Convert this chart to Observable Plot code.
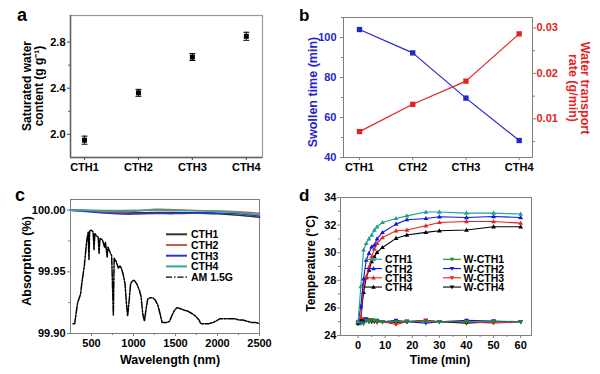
<!DOCTYPE html>
<html><head><meta charset="utf-8">
<script src="https://cdn.jsdelivr.net/npm/d3@7"></script>
<script src="https://cdn.jsdelivr.net/npm/@observablehq/plot@0.6"></script>
<style>
body{margin:0;background:#fff;}
#wrap{position:relative;width:600px;height:374px;overflow:hidden;background:#fff;}
#wrap svg{position:absolute;}
</style></head><body><div id="wrap"></div>
<script>
// ---------- DATA ----------
const categories = ["CTH1", "CTH2", "CTH3", "CTH4"];
// panel a
const waterContent = [1.95, 2.36, 2.67, 2.85];
const waterContentErr = [0.035, 0.03, 0.03, 0.035];
// panel b
const swollenTime = [104, 92.3, 69.7, 48.5];
const transportRate = [0.0072, 0.0132, 0.0183, 0.0287];
// panel c
const wlCTH = [250, 500, 750, 1000, 1250, 1500, 1750, 2000, 2250, 2500];
const absCTH1 = [100.000, 99.9995, 99.9982, 99.9978, 99.998, 99.998, 99.9978, 99.997, 99.9958, 99.9942];
const absCTH2 = [100.000, 99.9992, 99.9986, 99.9990, 100.0006, 100.0003, 99.9996, 99.9992, 99.9986, 99.9975];
const absCTH3 = [100.000, 99.9985, 99.9972, 99.9968, 99.9972, 99.9972, 99.9977, 99.9977, 99.997, 99.9952];
const absCTH4 = [100.000, 99.9998, 99.9996, 99.9998, 100.0000, 99.9998, 99.9995, 99.999, 99.998, 99.9963];
const amWl = [280, 300, 320, 335, 350, 370, 385, 400, 415, 430, 445, 460, 470, 478, 500, 520, 530, 540, 560, 580, 590, 600, 630, 655, 665, 687, 695, 720, 740, 760, 770, 790, 820, 840, 860, 880, 900, 915, 930, 950, 965, 990, 1010, 1040, 1070, 1090, 1110, 1130, 1150, 1170, 1200, 1230, 1260, 1290, 1320, 1340, 1360, 1400, 1430, 1460, 1490, 1520, 1560, 1600, 1650, 1700, 1740, 1780, 1800, 1850, 1900, 1950, 1980, 2030, 2100, 2150, 2200, 2250, 2300, 2350, 2400, 2450, 2500];
const amVal = [99.908, 99.908, 99.918, 99.925, 99.928, 99.932, 99.941, 99.948, 99.955, 99.966, 99.976, 99.982, 99.960, 99.983, 99.984, 99.982, 99.968, 99.981, 99.979, 99.978, 99.965, 99.977, 99.976, 99.970, 99.974, 99.962, 99.970, 99.966, 99.963, 99.915, 99.961, 99.959, 99.953, 99.955, 99.952, 99.947, 99.940, 99.925, 99.914, 99.928, 99.940, 99.943, 99.943, 99.940, 99.935, 99.930, 99.916, 99.910, 99.920, 99.928, 99.929, 99.929, 99.927, 99.923, 99.915, 99.909, 99.909, 99.909, 99.910, 99.915, 99.919, 99.921, 99.920, 99.919, 99.918, 99.916, 99.914, 99.911, 99.908, 99.908, 99.908, 99.909, 99.910, 99.912, 99.912, 99.912, 99.912, 99.911, 99.911, 99.910, 99.909, 99.909, 99.908];
// panel d
const time = [0, 1, 2, 3, 4, 5, 6, 7, 9, 14, 18, 25, 30, 40, 50, 60];
const tCTH1 = [25.0, 27.55, 30.2, 30.67, 31.0, 31.28, 31.64, 31.88, 32.19, 32.48, 32.67, 32.95, 32.95, 32.87, 32.87, 32.8];
const tCTH2 = [25.0, 26.1, 28.1, 29.47, 29.95, 30.43, 30.55, 31.0, 31.47, 32.07, 32.39, 32.48, 32.6, 32.55, 32.62, 32.55];
const tCTH3 = [25.0, 25.3, 27.73, 28.26, 28.94, 29.71, 30.26, 30.67, 31.1, 31.59, 31.64, 31.95, 32.19, 32.26, 32.26, 32.14];
const tCTH4 = [24.9, 25.2, 27.13, 28.2, 28.74, 29.35, 29.71, 30.02, 30.38, 31.04, 31.28, 31.47, 31.59, 31.64, 31.88, 31.88];
const tWCTH1 = [24.9, 24.9, 24.85, 25.1, 25.0, 25.15, 25.1, 25.05, 25.0, 25.0, 25.05, 25.0, 25.0, 25.0, 25.0, 25.0];
const tWCTH2 = [24.9, 25.0, 25.1, 25.2, 25.0, 25.1, 25.05, 25.1, 25.0, 25.1, 25.0, 24.9, 25.0, 25.1, 25.05, 25.0];
const tWCTH3 = [25.0, 25.1, 25.2, 25.1, 25.15, 25.1, 25.0, 24.95, 25.0, 24.8, 25.0, 25.1, 25.0, 25.0, 24.9, 25.0];
const tWCTH4 = [24.85, 24.9, 25.0, 25.1, 25.1, 25.0, 25.05, 25.0, 25.0, 24.95, 25.0, 25.1, 25.0, 24.9, 25.0, 25.0];

// ---------- STYLE ----------
const font = "'Liberation Sans', Arial, Helvetica, sans-serif";
const gray = "#808080", darkGray = "#606060";
const blue = "#2626c8", red = "#e02424";
const teal = "#1f9e8c", dblue = "#1414e6", dred = "#e82020";
const cColors = ["#333333", "#c85a52", "#3434c4", "#34a894"];
const baseStyle = {fontFamily: font, fontSize: "11px", fontWeight: "bold", background: "transparent", overflow: "visible", color: "black"};
const wrap = document.getElementById("wrap");
function put(svg, left, top) { svg.style.left = left + "px"; svg.style.top = top + "px"; wrap.appendChild(svg); return svg; }
const hcap = {draw(ctx) { ctx.moveTo(-3, 0); ctx.lineTo(3, 0); }};
const triDown = {draw(ctx, size) { const r = Math.sqrt(size) * 0.62; ctx.moveTo(0, r); ctx.lineTo(r * 0.95, -r * 0.65); ctx.lineTo(-r * 0.95, -r * 0.65); ctx.closePath(); }};
const triUp = {draw(ctx, size) { const r = Math.sqrt(size) * 0.62; ctx.moveTo(0, -r); ctx.lineTo(r * 0.95, r * 0.65); ctx.lineTo(-r * 0.95, r * 0.65); ctx.closePath(); }};
const noText = () => "";

// ---------- PANEL A ----------
const aData = categories.map((c, i) => ({i: i + 1, v: waterContent[i], e: waterContentErr[i]}));
const aX = [0.74, 4.3], aY = [1.8, 3.03];
put(Plot.plot({
  width: 300, height: 187, marginLeft: 70, marginRight: 38, marginTop: 15, marginBottom: 30,
  style: baseStyle,
  x: {domain: aX, axis: null}, y: {domain: aY, axis: null},
  marks: [
    Plot.frame({stroke: "#9a9a9a", strokeWidth: 1.2}),
    Plot.ruleX([aX[0]], {stroke: darkGray, strokeWidth: 1.5}),
    Plot.ruleY([aY[0]], {stroke: darkGray, strokeWidth: 1.5}),
    Plot.axisX({ticks: [1, 2, 3, 4], tickFormat: d => categories[d - 1], tickSize: 3, tickPadding: 3, stroke: darkGray, strokeWidth: 1.2, fill: "black", label: null}),
    Plot.axisY({ticks: [2.0, 2.4, 2.8], tickFormat: d3.format(".1f"), tickSize: 3, tickPadding: 2, stroke: darkGray, strokeWidth: 1.2, fill: "black", label: null}),
    Plot.axisY({ticks: [2.2, 2.6], tickFormat: noText, tickSize: 2, stroke: darkGray, label: null}),
    Plot.ruleX(aData, {x: "i", y1: d => d.v - d.e, y2: d => d.v + d.e, stroke: "black", strokeWidth: 1}),
    Plot.dot(aData, {x: "i", y: d => d.v - d.e, symbol: hcap, r: 3, stroke: "black", strokeWidth: 1}),
    Plot.dot(aData, {x: "i", y: d => d.v + d.e, symbol: hcap, r: 3, stroke: "black", strokeWidth: 1}),
    Plot.dot(aData, {x: "i", y: "v", symbol: "square", r: 2.8, fill: "black"})
  ]
}), 0, 0);

// ---------- PANEL B ----------
const bData = categories.map((c, i) => ({i: i + 1, t: swollenTime[i], r: transportRate[i]}));
const bX = [0.7, 4.25], bYL = [40, 110], bYR = [0.0015, 0.0323];
const bOpts = {width: 300, height: 187, marginLeft: 43, marginRight: 68, marginTop: 17, marginBottom: 30, style: baseStyle};
put(Plot.plot({
  ...bOpts,
  x: {domain: bX, axis: null}, y: {domain: bYL, axis: null},
  marks: [
    Plot.frame({stroke: gray}),
    Plot.axisX({ticks: [1, 2, 3, 4], tickFormat: d => categories[d - 1], tickSize: 3, tickPadding: 3, stroke: gray, fill: "black", label: null}),
    Plot.axisY({ticks: [40, 60, 80, 100], tickSize: 3, tickPadding: 4, stroke: gray, fill: blue, label: null}),
    Plot.axisY({ticks: [50, 70, 90, 110], tickFormat: noText, tickSize: 2, stroke: gray, label: null}),
    Plot.line(bData, {x: "i", y: "t", stroke: blue, strokeWidth: 1.2}),
    Plot.dot(bData, {x: "i", y: "t", symbol: "square", r: 3, fill: blue})
  ]
}), 300, 0);
put(Plot.plot({
  ...bOpts,
  x: {domain: bX, axis: null}, y: {domain: bYR, axis: null},
  marks: [
    Plot.axisY({anchor: "right", ticks: [0.01, 0.02, 0.03], tickFormat: d3.format(".2f"), tickSize: 3, tickPadding: 1, stroke: gray, fill: red, label: null}),
    Plot.axisY({anchor: "right", ticks: [0.005, 0.015, 0.025], tickFormat: noText, tickSize: 2, stroke: gray, label: null}),
    Plot.line(bData, {x: "i", y: "r", stroke: red, strokeWidth: 1.2}),
    Plot.dot(bData, {x: "i", y: "r", symbol: "square", r: 3, fill: red})
  ]
}), 300, 0);

// ---------- PANEL C ----------
const cX = [250, 2500], cY = [99.9, 100.0086];
const amData = amWl.map((w, i) => ({w, v: amVal[i]}));
const cSeries = [absCTH1, absCTH2, absCTH3, absCTH4].map((arr, k) => wlCTH.map((w, i) => ({w, v: arr[i], s: categories[k]})));
put(Plot.plot({
  width: 300, height: 187, marginLeft: 70, marginRight: 41, marginTop: 12, marginBottom: 41,
  style: baseStyle,
  x: {domain: cX, axis: null}, y: {domain: cY, axis: null},
  marks: [
    Plot.frame({stroke: gray}),
    Plot.axisX({ticks: [500, 1000, 1500, 2000, 2500], tickSize: 3, tickPadding: 3, stroke: gray, fill: "black", label: null, tickFormat: d3.format("d")}),
    Plot.axisX({ticks: [750, 1250, 1750, 2250], tickFormat: noText, tickSize: 2, stroke: gray, label: null}),
    Plot.axisY({ticks: [99.9, 99.95, 100.0], tickFormat: d3.format(".2f"), tickSize: 3, tickPadding: 2, stroke: gray, fill: "black", label: null}),
    Plot.axisY({ticks: [99.925, 99.975], tickFormat: noText, tickSize: 2, stroke: gray, label: null}),
    Plot.line(amData, {x: "w", y: "v", stroke: "black", strokeWidth: 1.5, strokeDasharray: "7,1.5,2,1.5"}),
    ...cSeries.map((s, k) => Plot.line(s, {x: "w", y: "v", stroke: cColors[k], strokeWidth: 1.6, curve: "natural"}))
  ]
}), 0, 187);

// ---------- PANEL D ----------
const dX = [-6.5, 64], dY = [24, 34];
const dNames = ["CTH1", "CTH2", "CTH3", "CTH4", "W-CTH1", "W-CTH2", "W-CTH3", "W-CTH4"];
const dColors = [teal, dblue, dred, "black", "#1e8c2c", dblue, dred, "black"];
const dVals = [tCTH1, tCTH2, tCTH3, tCTH4, tWCTH1, tWCTH2, tWCTH3, tWCTH4];
const dSeries = dVals.map((arr, k) => time.map((t, i) => ({t, v: arr[i]})));
const dOrder = [7, 6, 5, 4, 3, 2, 1, 0];
put(Plot.plot({
  width: 300, height: 187, marginLeft: 40, marginRight: 69, marginTop: 10, marginBottom: 39,
  style: baseStyle,
  x: {domain: dX, axis: null}, y: {domain: dY, axis: null},
  marks: [
    Plot.frame({stroke: gray}),
    Plot.axisX({ticks: [0, 10, 20, 30, 40, 50, 60], tickSize: 3, tickPadding: 3, stroke: gray, fill: "black", label: null}),
    Plot.axisX({ticks: [5, 15, 25, 35, 45, 55], tickFormat: noText, tickSize: 2, stroke: gray, label: null}),
    Plot.axisY({ticks: [24, 26, 28, 30, 32, 34], tickSize: 3, tickPadding: 1, stroke: gray, fill: "black", label: null}),
    Plot.axisY({ticks: [25, 27, 29, 31, 33], tickFormat: noText, tickSize: 2, stroke: gray, label: null}),
    ...dOrder.flatMap(k => [
      Plot.line(dSeries[k], {x: "t", y: "v", stroke: dColors[k], strokeWidth: 1.1}),
      Plot.dot(dSeries[k], {x: "t", y: "v", symbol: k < 4 ? triUp : triDown, r: 2.3, fill: dColors[k]})
    ])
  ]
}), 300, 187);

// ---------- OVERLAY TEXT & LEGENDS ----------
const ov = d3.create("svg").attr("width", 600).attr("height", 374)
  .style("left", "0px").style("top", "0px").style("pointer-events", "none")
  .attr("font-family", font).attr("font-weight", "bold");
function txt(x, y, s, opt = {}) {
  return ov.append("text").attr("x", 0).attr("y", 0)
    .attr("transform", `translate(${x},${y}) rotate(${opt.rot || 0})`)
    .attr("font-size", opt.size || 12.5).attr("fill", opt.fill || "black")
    .attr("text-anchor", opt.anchor || "middle")
    .attr("dominant-baseline", opt.base || "central").text(s);
}
txt(17, 21, "a", {size: 18, anchor: "start", base: "alphabetic"});
txt(299, 20.5, "b", {size: 17, anchor: "start", base: "alphabetic"});
txt(15, 200.5, "c", {size: 18, anchor: "start", base: "alphabetic"});
txt(299, 200.5, "d", {size: 17, anchor: "start", base: "alphabetic"});
txt(26.7, 86, "Saturated water", {rot: -90, size: 12});
txt(38.5, 86, "content (g g\u207B\u00B9)", {rot: -90, size: 12});
txt(312.7, 92, "Swollen time (min)", {rot: -90, fill: blue});
txt(585, 88, "Water transport", {rot: 90, fill: red});
txt(573.3, 88, "rate (g/min)", {rot: 90, fill: red});
txt(26.7, 261, "Absorption (%)", {rot: -90});
txt(170, 359.5, "Wavelength (nm)");
txt(311, 263.5, "Temperature (\u00B0C)", {rot: -90, size: 12});
txt(440, 359.5, "Time (min)", {size: 12});
const cLegNames = [...categories, "AM 1.5G"];
const cLegColors = [...cColors, "black"];
cLegNames.forEach((n, i) => {
  const y = 234.3 + i * 10.7;
  ov.append("line").attr("x1", 166).attr("x2", 187).attr("y1", y).attr("y2", y)
    .attr("stroke", cLegColors[i]).attr("stroke-width", i < 4 ? 2 : 1.4)
    .attr("stroke-dasharray", i < 4 ? null : "6,2,1.5,2");
  txt(191, y, n, {size: 10.5, anchor: "start"});
});
dNames.forEach((n, k) => {
  const col = k < 4 ? 0 : 1, row = k % 4;
  const y = 259.3 + row * 9.25;
  const x0 = col ? 443 : 365, x1 = col ? 461 : 382, xt = col ? 463.5 : 385;
  ov.append("line").attr("x1", x0).attr("x2", x1).attr("y1", y).attr("y2", y).attr("stroke", dColors[k]).attr("stroke-width", 1.1);
  const cx = (x0 + x1) / 2, r = 2.3;
  ov.append("path").attr("d", k < 4
    ? `M${cx},${y - r}L${cx + r},${y + r * 0.7}L${cx - r},${y + r * 0.7}Z`
    : `M${cx},${y + r}L${cx + r},${y - r * 0.7}L${cx - r},${y - r * 0.7}Z`).attr("fill", dColors[k]);
  txt(xt, y, n, {size: 10.5, anchor: "start"});
});
wrap.appendChild(ov.node());
</script></body></html>
